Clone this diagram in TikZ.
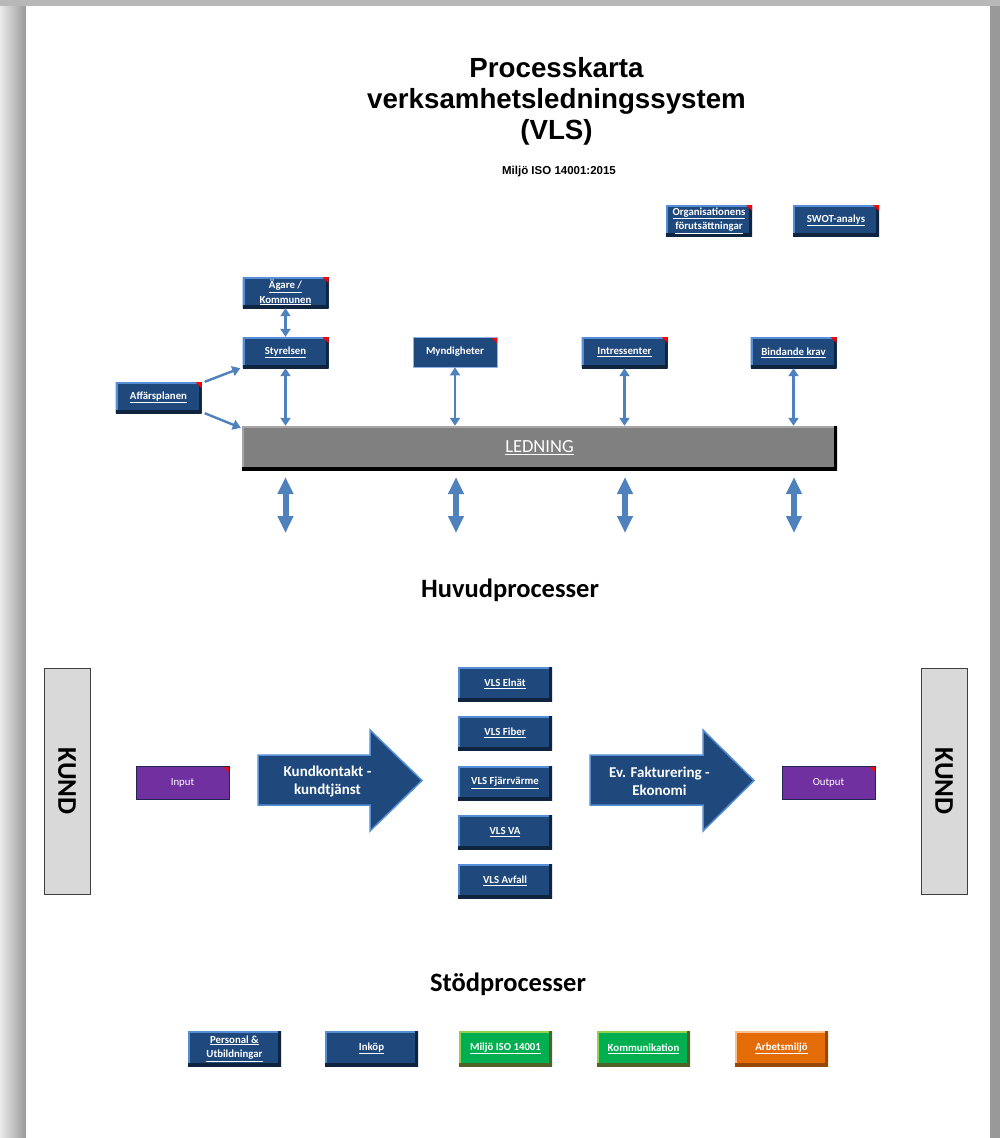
\documentclass[tikz,border=0pt]{standalone}
\usepackage{fontspec}
\setmainfont{Carlito}
\newfontfamily\arialf{Liberation Sans}
\usetikzlibrary{arrows.meta}
\definecolor{boxblue}{HTML}{1F497D}
\definecolor{lightedge}{HTML}{558ED5}
\definecolor{darkedge}{HTML}{0F243E}
\definecolor{arrowblue}{HTML}{4F81BD}
\definecolor{vpurple}{HTML}{7030A0}
\definecolor{vgreen}{HTML}{00B050}
\definecolor{greenlight}{HTML}{92D050}
\definecolor{greendark}{HTML}{4F6228}
\definecolor{vorange}{HTML}{E36C09}
\definecolor{orangelight}{HTML}{FAC090}
\definecolor{orangedark}{HTML}{974806}
\definecolor{bargray}{HTML}{808080}
\definecolor{barlight}{HTML}{A6A6A6}
\definecolor{kundgray}{HTML}{D9D9D9}
\definecolor{mynedge}{HTML}{8EB4E3}
\newcommand\rcorner{\fill[red] ([xshift=-6pt]path picture bounding box.north east) -- (path picture bounding box.north east) -- ([yshift=-6pt]path picture bounding box.north east) -- cycle;}
\tikzset{
  bevel/.style n args={4}{fill=#1, path picture={
    \draw[#2, line width=4pt] (path picture bounding box.south west) -- (path picture bounding box.north west) -- (path picture bounding box.north east);
    \draw[#3, line width=6pt] (path picture bounding box.south west) -- (path picture bounding box.south east) -- (path picture bounding box.north east);
    #4}},
  btntext/.style={inner sep=0pt, text=white, align=center, font=\fontsize{10.8}{14.5}\selectfont\bfseries},
  bluebtn/.style={btntext, bevel={boxblue}{lightedge}{darkedge}{\rcorner}, minimum width=86pt, minimum height=31pt},
  vlsbtn/.style={btntext, bevel={boxblue}{lightedge}{darkedge}{}, minimum width=94pt, minimum height=34pt},
  suppblue/.style={btntext, bevel={boxblue}{lightedge}{darkedge}{}, minimum width=93pt, minimum height=35pt},
  suppgreen/.style={btntext, bevel={vgreen}{greenlight}{greendark}{}, minimum width=93pt, minimum height=35pt},
  supporange/.style={btntext, bevel={vorange}{orangelight}{orangedark}{}, minimum width=93pt, minimum height=35pt},
  iobox/.style={inner sep=0pt, text=white, font=\fontsize{10.8}{12}\selectfont, fill=vpurple, draw=darkedge!80!vpurple, line width=0.8pt, minimum width=93pt, minimum height=33pt, path picture={\rcorner}},
  kundbox/.style={fill=kundgray, draw=black!75, line width=1pt, minimum width=46pt, minimum height=226pt, inner sep=0pt},
  tarrow/.style={draw=arrowblue, line width=2.4pt, {Triangle[length=8pt,width=10pt]}-{Triangle[length=8pt,width=10pt]}},
  sarrow/.style={draw=arrowblue, line width=2.4pt, -{Triangle[length=8pt,width=10pt]}},
  bigarrow/.style={draw=arrowblue, line width=6pt, {Triangle[length=17pt,width=15pt]}-{Triangle[length=17pt,width=15pt]}},
  blockarrow/.style={fill=boxblue, draw=lightedge, line width=1.5pt, line join=miter},
  arrowtext/.style={text=white, align=center, font=\fontsize{15}{18}\selectfont\bfseries},
  heading/.style={font=\fontsize{26.5}{30}\selectfont\bfseries}
}
\begin{document}
\begin{tikzpicture}[x=1pt,y=-1pt]
\useasboundingbox (0,0) rectangle (1000,1138);
% page background and shadow
\fill[black!22] (0,0) rectangle (1000,1138);
\shade[left color=black!8, right color=black!40] (0,0) rectangle (26,1138);
\fill[black!40] (990,0) rectangle (1000,1138);
\fill[black!28] (0,0) rectangle (1000,6);
\fill[white] (26,6) rectangle (990,1138);

% title
\node[align=center, font=\arialf\fontsize{27.7}{31}\selectfont\bfseries] (title) at (556.5,101) {Processkarta\\verksamhetsledningssystem\\(VLS)};
\node[font=\arialf\fontsize{11.5}{13}\selectfont\bfseries] (sub) at (559,172) {Miljö ISO 14001:2015};

% top boxes
\node[bluebtn] (org) at (709,220.5) {\underline{Organisationens}\\\underline{förutsättningar}};
\node[bluebtn] (swot) at (836,220.5) {\underline{SWOT-analys}};
\node[bluebtn] (agare) at (285.5,292.5) {\underline{Ägare /}\\\underline{Kommunen}};
\node[bluebtn] (styr) at (285.5,352.5) {\underline{Styrelsen}};
\node[btntext, fill=boxblue, draw=mynedge, line width=0.8pt, minimum width=84pt, minimum height=30pt, path picture={\rcorner}] (mynd) at (455,352) {Myndigheter};
\node[bluebtn] (intr) at (624.5,352.5) {\underline{Intressenter}};
\node[bluebtn] (bind) at (793.5,352.5) {\underline{Bindande krav}};
\node[bluebtn] (aff) at (158.5,397.5) {\underline{Affärsplanen}};

% ledning bar
\node[bevel={bargray}{barlight}{black}{}, minimum width=595pt, minimum height=44pt, inner sep=0pt, text=white, font=\fontsize{18.5}{20}\selectfont] (led) at (539.5,448) {\underline{LEDNING}};

% thin arrows
\draw[tarrow] (agare.south) -- (styr.north);
\draw[tarrow] (styr.south) -- (styr.south |- led.north);
\draw[tarrow] (mynd.south) -- (mynd.south |- led.north);
\draw[tarrow] (intr.south) -- (intr.south |- led.north);
\draw[tarrow] (bind.south) -- (bind.south |- led.north);
\draw[sarrow] ([xshift=3pt]aff.north east) -- ([xshift=-2pt]styr.south west);
\draw[sarrow] ([xshift=3pt]aff.south east) -- ([xshift=-1pt,yshift=-2pt]led.north west);

% thick arrows under LEDNING
\coordinate (u1) at (285.5,477); \coordinate (d1) at (285.5,533);
\coordinate (u2) at (456,477); \coordinate (d2) at (456,533);
\coordinate (u3) at (625,477); \coordinate (d3) at (625,533);
\coordinate (u4) at (794,477); \coordinate (d4) at (794,533);
\draw[bigarrow] (u1) -- (d1);
\draw[bigarrow] (u2) -- (d2);
\draw[bigarrow] (u3) -- (d3);
\draw[bigarrow] (u4) -- (d4);

% headings
\node[heading] (huvud) at (510,590) {Huvudprocesser};
\node[heading] (stod) at (508,984) {Stödprocesser};

% main process row
\node[kundbox] (kundL) at (67,781) {};
\node[rotate=-90, font=\fontsize{27}{28}\selectfont\bfseries] (kundLt) at (kundL.center) {KUND};
\node[kundbox] (kundR) at (944,781) {};
\node[rotate=-90, font=\fontsize{27}{28}\selectfont\bfseries] (kundRt) at (kundR.center) {KUND};

\node[iobox] (input) at (182.5,782.5) {Input};
\node[iobox] (output) at (828.5,782.5) {Output};

\draw[blockarrow] (258,755) -- (370,755) -- (370,730) -- (422,780.5) -- (370,831) -- (370,805) -- (258,805) -- cycle;
\node[arrowtext] (kk) at (327.5,781) {Kundkontakt -\\kundtjänst};
\draw[blockarrow] (590,755) -- (703,755) -- (703,730) -- (754,780.5) -- (703,831) -- (703,805) -- (590,805) -- cycle;
\node[arrowtext] (fakt) at (659.5,781) {Ev. Fakturering -\\Ekonomi};

\node[vlsbtn] (elnat) at (505,684) {\underline{VLS Elnät}};
\node[vlsbtn] (fiber) at (505,733) {\underline{VLS Fiber}};
\node[vlsbtn] (fjarr) at (505,783) {\underline{VLS Fjärrvärme}};
\node[vlsbtn] (va) at (505,832) {\underline{VLS VA}};
\node[vlsbtn] (avfall) at (505,881) {\underline{VLS Avfall}};

% support processes
\node[suppblue] (pers) at (234.5,1048.5) {\underline{Personal \&}\\\underline{Utbildningar}};
\node[suppblue] (inkop) at (371.5,1048.5) {\underline{Inköp}};
\node[suppgreen] (miljo) at (505.5,1048.5) {\underline{Miljö ISO 14001}};
\node[suppgreen] (komm) at (643.5,1048.5) {\underline{Kommunikation}};
\node[supporange] (arb) at (781.5,1048.5) {\underline{Arbetsmiljö}};
\end{tikzpicture}
\end{document}
